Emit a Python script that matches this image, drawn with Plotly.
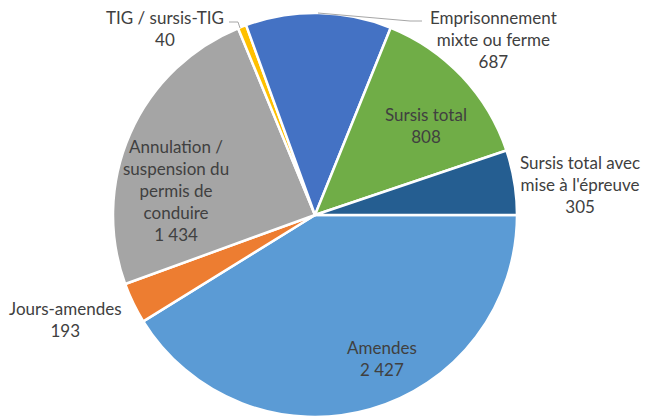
import plotly.graph_objects as go

W, H = 647, 419

categories = [
    "Sursis total avec<br>mise à l'épreuve",
    "Sursis total",
    "Emprisonnement<br>mixte ou ferme",
    "TIG / sursis-TIG",
    "Annulation /<br>suspension du<br>permis de<br>conduire",
    "Jours-amendes",
    "Amendes",
]
values = [305, 808, 687, 40, 1434, 193, 2427]
colors = ["#255E91", "#70AD47", "#4472C4", "#FFC000", "#A5A5A5", "#ED7D31", "#5B9BD5"]

# label centres in pixels (x, y of first line)
label_pos = [(580, 162), (426, 114), (493, 17), (165, 17), (176, 145), (65, 308), (382, 347)]
line_h = 22.5


def px(x):
    return x / W


def py(y):
    return 1 - y / H


def fmt(v):
    return f"{v:,}".replace(",", " ")


cx, cy, r = 315, 215, 202

# drawn clockwise from 3 o'clock, so feed the slices in reverse order
fig = go.Figure(go.Pie(
    labels=[c.replace("<br>", " ") for c in categories][::-1],
    values=values[::-1],
    sort=False,
    direction="clockwise",
    rotation=90,
    marker=dict(colors=colors[::-1], line=dict(color="white", width=2.5)),
    textinfo="none",
    hoverinfo="label+value",
    domain=dict(x=[px(cx - r), px(cx + r)], y=[py(cy + r), py(cy - r)]),
))

annotations = []
for cat, v, (x, y) in zip(categories, values, label_pos):
    n = cat.count("<br>") + 2
    ymid = y + (n - 1) * line_h / 2
    annotations.append(dict(
        x=px(x), y=py(ymid), xref="paper", yref="paper",
        text=f"{cat}<br>{fmt(v)}", showarrow=False,
        xanchor="center", yanchor="middle", align="center",
        font=dict(family="Lato, Carlito, sans-serif", size=17, color="#404040"),
    ))

leader = dict(type="path", xref="paper", yref="paper",
              line=dict(color="#A6A6A6", width=1))
shapes = [
    dict(leader, path=f"M {px(229)} {py(22)} L {px(238)} {py(22)} L {px(240)} {py(28)}"),
    dict(leader, path=f"M {px(422)} {py(21)} L {px(410)} {py(21)} L {px(318)} {py(13)}"),
]

fig.update_layout(
    width=W, height=H,
    margin=dict(l=0, r=0, t=0, b=0),
    paper_bgcolor="white",
    showlegend=False,
    annotations=annotations,
    shapes=shapes,
)

fig.write_html("out.html", config={"displayModeBar": False},
               post_script="document.body.style.margin='0';")
